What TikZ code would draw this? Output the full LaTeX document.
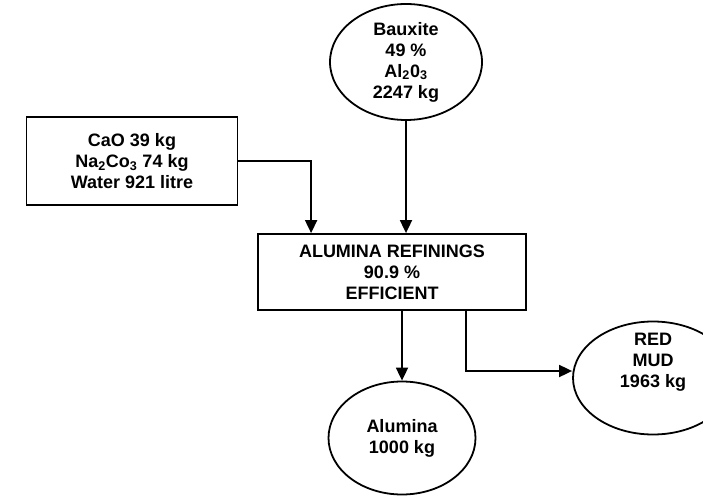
\documentclass[tikz,border=0pt]{standalone}
\usepackage{fontspec}
\setmainfont{Liberation Sans}
\usepackage{tikz}
\usetikzlibrary{arrows.meta,positioning,shapes.geometric,calc}
\tikzset{
  stream/.style={ellipse,draw,line width=1.8pt,inner sep=0pt,align=center},
  unit/.style={rectangle,draw,line width=1.8pt,inner sep=0pt,align=center},
  txt/.style={align=center,inner sep=0pt}
}

\begin{document}
\begin{tikzpicture}[x=1pt,y=-1pt,>={Triangle[length=13pt,width=12pt]},line width=1.8pt,
  font=\fontsize{18}{21}\selectfont\bfseries]
  \clip (0,0) rectangle (703,497);
  \node[stream,minimum width=152pt,minimum height=116pt] (bauxite) at (406,62) {Bauxite\\49 \%\\Al\textsubscript{2}0\textsubscript{3}\\2247 kg};
  \node[unit,minimum width=211pt,minimum height=88pt] (additives) at (132,161) {CaO 39 kg\\Na\textsubscript{2}Co\textsubscript{3} 74 kg\\Water 921 litre};
  \node[unit,minimum width=268pt,minimum height=76pt] (refinery) at (392,272) {ALUMINA REFININGS\\90.9 \%\\EFFICIENT};
  \node[stream,minimum width=147pt,minimum height=113pt] (alumina) at (402,438) {Alumina\\1000 kg};
  \node[stream,minimum width=160pt,minimum height=113pt] (mud) at (653,378) {};
  \node[txt] (mudtxt) at (653,362) {RED\\MUD\\1963 kg};
  % flows into the refinery
  \draw[->] (bauxite.south) -- (bauxite.south |- refinery.north);
  \draw[->] (additives.east) -| ([xshift=54pt]refinery.north west);
  % products
  \draw[->] (alumina.north |- refinery.south) -- (alumina.north);
  \draw[->] ([xshift=-61pt]refinery.south east) |- ([yshift=7pt]mud.west);
\end{tikzpicture}
\end{document}
